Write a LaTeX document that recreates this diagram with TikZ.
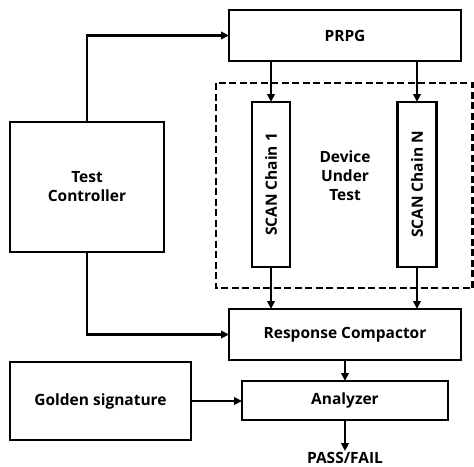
\documentclass[tikz,border=0pt]{standalone}
\usepackage{fontspec}
\setmainfont{Open Sans}
\usetikzlibrary{arrows.meta}
\begin{document}
\begin{tikzpicture}[x=1pt,y=-1pt,
  blk/.style={draw,line width=2.1pt,inner sep=0pt,outer sep=0pt,align=center,font=\fontsize{15.5}{19}\selectfont\bfseries},
  arr/.style={line width=2.1pt,-{Triangle[length=8pt,width=7.5pt]}},
  txt/.style={align=center,font=\fontsize{15.5}{19}\selectfont\bfseries}]
\useasboundingbox (0,0) rectangle (474,466);
\node[blk,minimum width=232,minimum height=51] (prpg) at (345,35.5) {PRPG};
\node[blk,minimum width=38,minimum height=165] (sc1) at (271,184.5) {\rotatebox{90}{SCAN Chain 1}};
\node[blk,minimum width=39,minimum height=165] (scn) at (417,184.5) {\rotatebox{90}{SCAN Chain N}};
\node[blk,minimum width=154,minimum height=130] (tc) at (87,187) {Test\\Controller};
\node[blk,minimum width=232,minimum height=51] (rc) at (345,334.5) {Response Compactor};
\node[blk,minimum width=206,minimum height=39] (an) at (345,400.5) {Analyzer};
\node[blk,minimum width=181,minimum height=78] (gs) at (100.5,401) {Golden signature};
\node[txt] (dut) at (345,176) {Device\\Under\\Test};
\node[txt,inner sep=1pt] (pf) at (345,458) {PASS/FAIL};
\draw[line width=2.1pt,dash pattern=on 7pt off 3.5pt] (216,83) rectangle (472.5,288);
\draw[arr] (tc.north) |- (prpg.west);
\draw[arr] (tc.south) |- (rc.west);
\draw[arr] (prpg.south -| sc1.north) -- (sc1.north);
\draw[arr] (prpg.south -| scn.north) -- (scn.north);
\draw[arr] (sc1.south) -- (sc1.south |- rc.north);
\draw[arr] (scn.south) -- (scn.south |- rc.north);
\draw[arr] (rc.south) -- (an.north);
\draw[arr] (gs.east) -- (gs.east -| an.west);
\draw[arr] (an.south) -- (pf.north);
\end{tikzpicture}
\end{document}
